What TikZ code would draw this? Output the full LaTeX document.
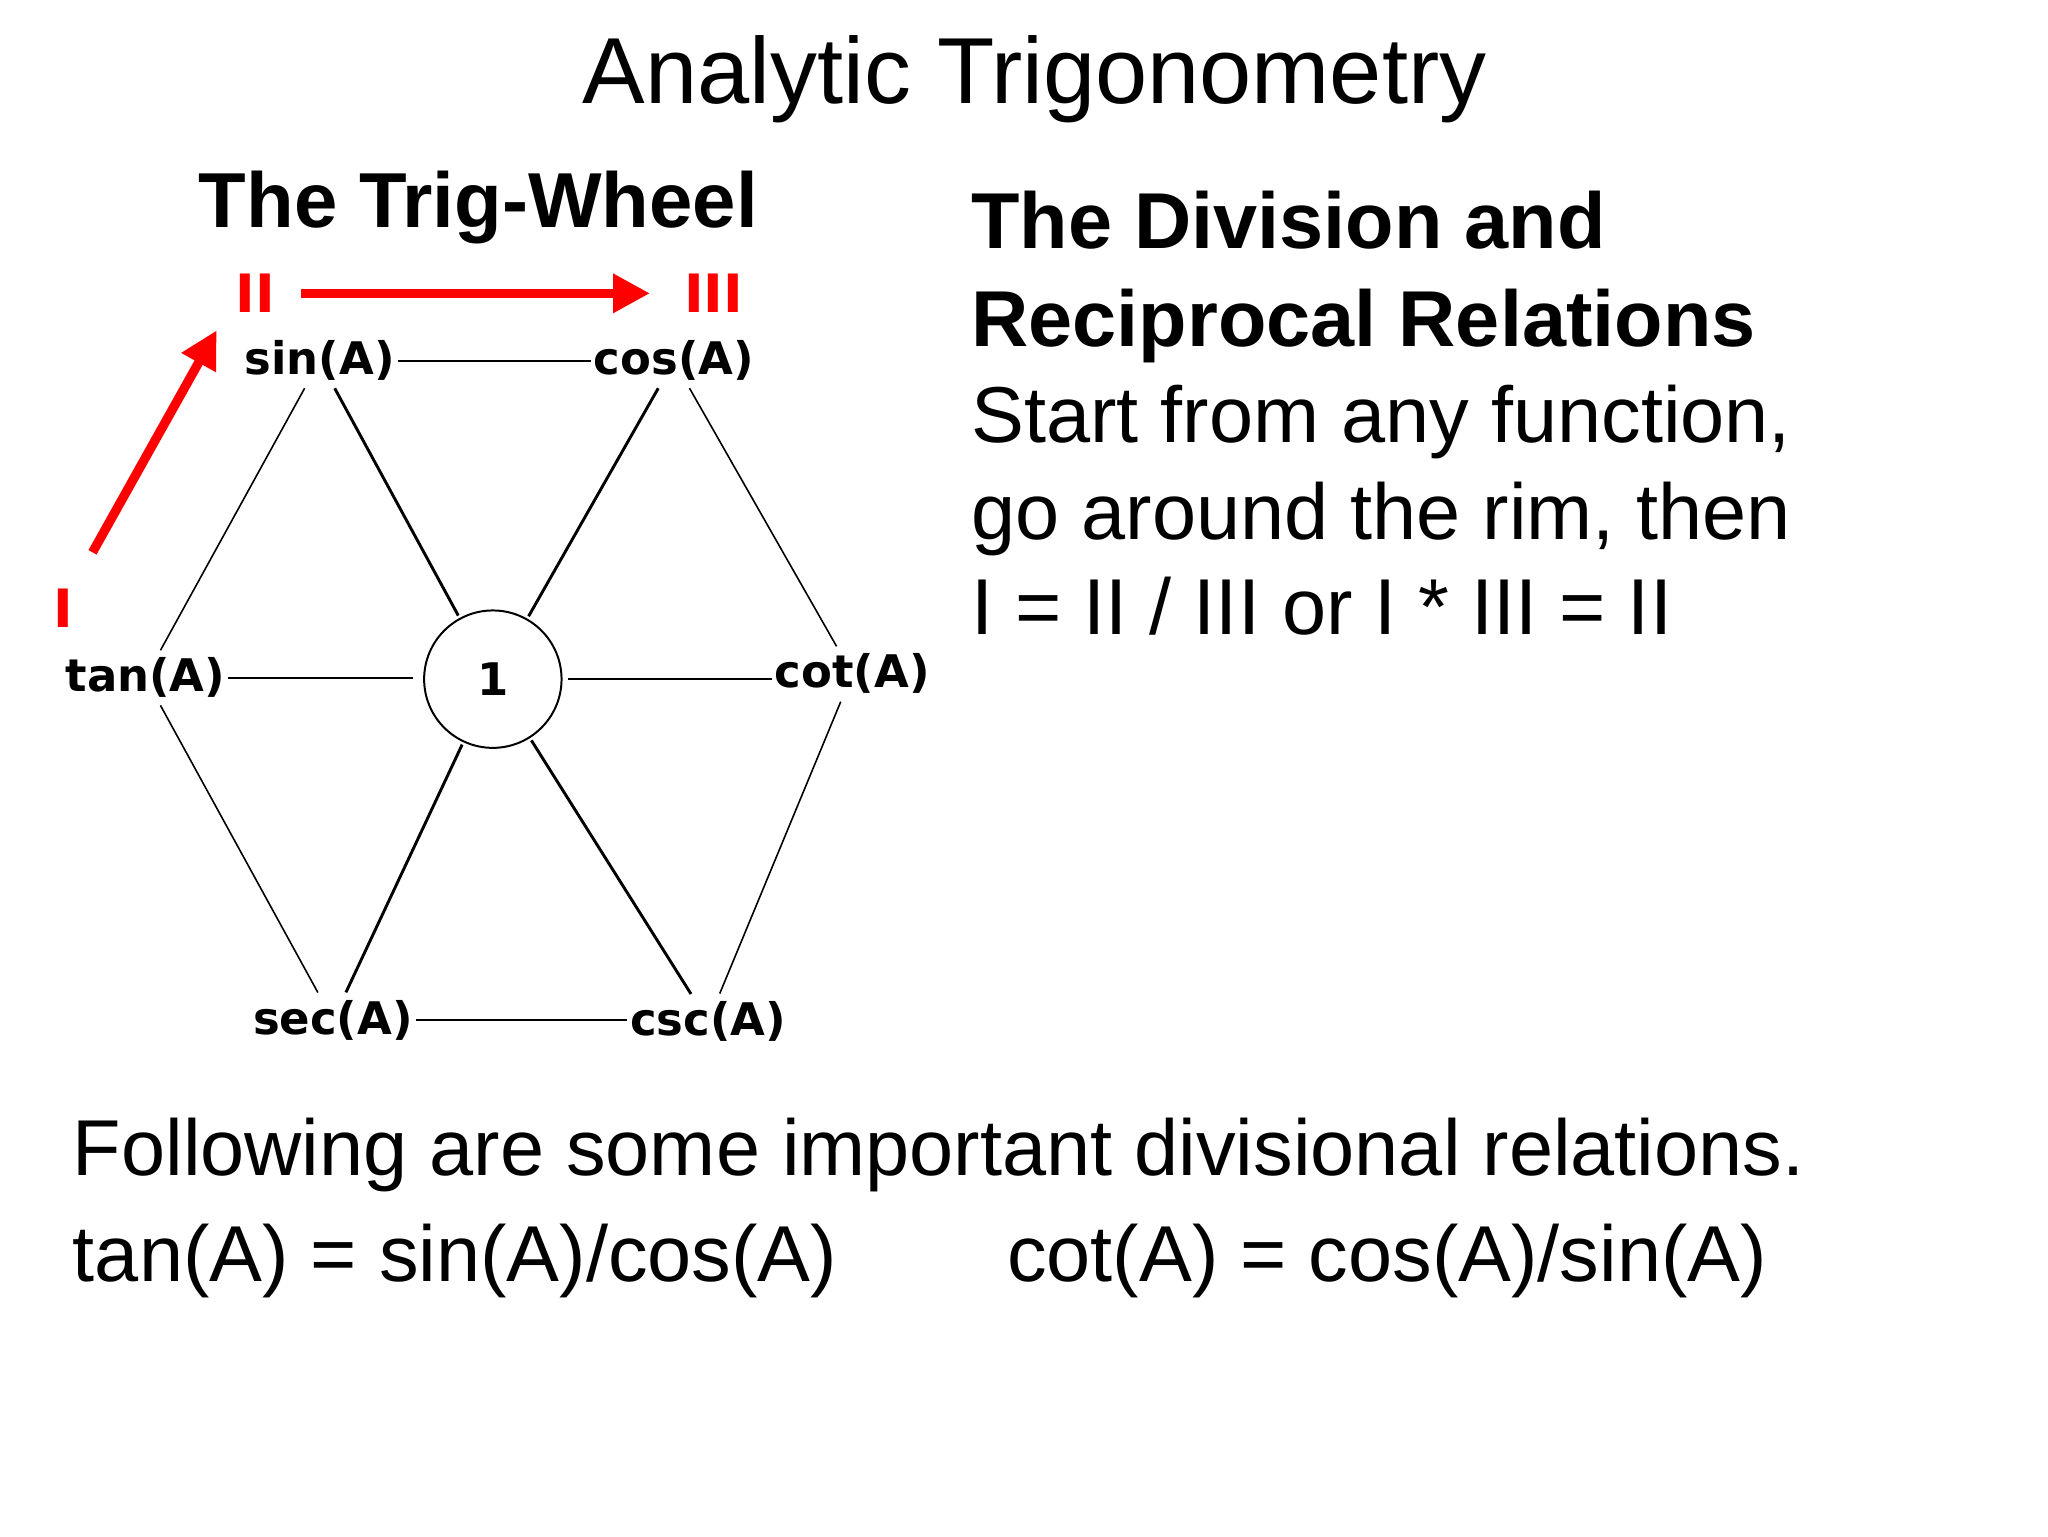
\documentclass[tikz,border=0pt]{standalone}
\usepackage{fontspec}
\usetikzlibrary{arrows.meta}
\setmainfont{Liberation Sans}
\newfontfamily\vfont{DejaVu Sans}
\begin{document}
\begin{tikzpicture}[x=1pt,y=-1pt,
  lab/.style={font=\vfont\bfseries\fontsize{34}{38}\selectfont,inner sep=2pt},
  txt/.style={anchor=base west,inner sep=0pt,font=\fontsize{60}{70}\selectfont},
  btxt/.style={txt,font=\fontsize{60}{70}\selectfont\bfseries},
  rim/.style={line width=1.2pt,shorten <=4pt,shorten >=4pt},
  spoke/.style={line width=2.2pt,shorten <=4pt,shorten >=2pt},
  rn/.style={text=red,font=\vfont\bfseries\fontsize{40}{44}\selectfont,inner sep=0pt},
  rarr/.style={draw=red,line width=7pt,-{Triangle[length=28pt,width=28pt]}}]
\useasboundingbox (0,0) rectangle (1550,1163);
\fill[white] (0,0) rectangle (1550,1163);
\node[anchor=base,inner sep=0pt,font=\fontsize{71}{80}\selectfont] (title) at (783,78) {Analytic Trigonometry};
\node[anchor=base,inner sep=0pt,font=\fontsize{59}{66}\selectfont\bfseries] (tw) at (362,172) {The Trig-Wheel};
\node[btxt] (r1) at (735,188) {The Division and};
\node[btxt] (r2) at (735,262) {Reciprocal Relations};
\node[txt] (r3) at (735,335) {Start from any function,};
\node[txt] (r4) at (735,408) {go around the rim, then};
\node[txt] (r5) at (735,480) {I = II / III or I * III = II};
\node[txt] (b1) at (55,890) {Following are some important divisional relations.};
\node[txt] (b2) at (55,970) {tan(A) = sin(A)/cos(A)};
\node[txt] (b3) at (762,970) {cot(A) = cos(A)/sin(A)};
% wheel
\node[lab] (sin) at (242,273) {sin(A)};
\node[lab] (cos) at (510,273) {cos(A)};
\node[lab] (tan) at (110,513) {tan(A)};
\node[lab] (cot) at (645,510) {cot(A)};
\node[lab] (sec) at (252,772) {sec(A)};
\node[lab] (csc) at (536,773) {csc(A)};
\node[draw,circle,line width=1.5pt,minimum size=104pt,lab] (one) at (373,514) {1};
\draw[line width=1.5pt] (sin.east) -- (sin.east -| cos.west);
\draw[line width=1.5pt] (sec.east) -- (sec.east -| csc.west);
\draw[line width=1.5pt] (tan.east) -- ([xshift=-8pt]tan.east -| one.west);
\draw[line width=1.5pt] ([xshift=4pt]one.east) -- (one.east -| cot.west);
\draw[rim] (sin) -- (tan);
\draw[rim] (tan) -- (sec);
\draw[rim] (cos) -- (cot);
\draw[rim] (cot) -- (csc);
\draw[spoke] (sin) -- (one);
\draw[spoke] (cos) -- (one);
\draw[spoke] (sec) -- (one);
\draw[spoke] (csc) -- (one);
% red
\node[rn] (I) at (48,460) {I};
\node[rn] (II) at (193,222) {II};
\node[rn] (III) at (540,222) {III};
\coordinate (a1) at (70,418);
\coordinate (a2) at (164,250);
\coordinate (a3) at (228,222);
\coordinate (a4) at (492,222);
\draw[rarr] (a1) -- (a2);
\draw[rarr] (a3) -- (a4);
\end{tikzpicture}
\end{document}
